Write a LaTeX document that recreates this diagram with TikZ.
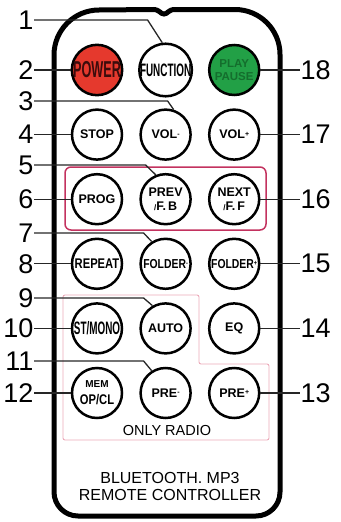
\documentclass[tikz,border=0pt]{standalone}
\usepackage{fontspec}
\setmainfont{Liberation Sans}
\newfontfamily\tallfont[FakeStretch=0.55]{Liberation Sans}
\newfontfamily\semifont[FakeStretch=0.8]{Liberation Sans}
\usetikzlibrary{positioning}

\definecolor{powerred}{HTML}{E5392D}
\definecolor{powertext}{HTML}{3C0C0C}
\definecolor{playgreen}{HTML}{22A046}
\definecolor{playtext}{HTML}{146E2D}
\definecolor{groupred}{HTML}{C3325F}
\definecolor{radiopink}{HTML}{EBAAB9}

\newcommand{\sgn}[1]{\raisebox{2.5pt}{\fontsize{7}{7}\selectfont #1}}
\newcommand{\slsh}{{\fontsize{8}{8}\selectfont/}}

\tikzset{
  btn/.style     = {draw, circle, line width=2.5pt, minimum size=50pt, inner sep=0pt, align=center,
                    font=\bfseries\fontsize{12.5}{14}\selectfont},
  numlabel/.style= {inner sep=0.5pt, font=\fontsize{27}{27}\selectfont},
  lead/.style    = {draw, line width=1.3pt, black!85},
}

\begin{document}
\begin{tikzpicture}[x=1pt, y=-1pt, node distance=64.6pt]

\useasboundingbox (0,0) rectangle (340,522);

% remote body
\draw [line width=5pt] (54,55) arc [start angle=180, end angle=90, radius=45pt]
      -- (153,9.5) .. controls (160,9.5) and (160,14) .. (164,14)
      .. controls (168,14) and (168,9.5) .. (175,9.5)
      -- (235,9.5) arc [start angle=90, end angle=0, radius=45pt]
      -- (280,492) arc [start angle=0, end angle=-90, radius=24pt]
      -- (78,516) arc [start angle=270, end angle=180, radius=24pt] -- cycle;

% groups
\draw [groupred, line width=1.5pt, rounded corners=6pt] (65,167) rectangle (266,230);
\draw [radiopink, line width=0.9pt, rounded corners=2pt]
      (63,295) -- (199,295) -- (199,364) -- (269,364) -- (269,440) -- (63,440) -- cycle;

% buttons
\node [btn, fill=powerred, text=powertext, font=\tallfont\bfseries\fontsize{23}{23}\selectfont] (pw) at (97,70) {POWER};
\node [btn, right of=pw, xshift=4pt, font=\tallfont\bfseries\fontsize{18}{18}\selectfont] (fn) {FUNCTION};
\node [btn, right of=fn, xshift=4pt, fill=playgreen, text=playtext, font=\bfseries\fontsize{11.5}{12.5}\selectfont] (pp) {PLAY\\PAUSE};

\node [btn, below of=pw] (st) {STOP};
\node [btn, below of=fn] (vm) {VOL\sgn{-}};
\node [btn, below of=pp] (vp) {VOL\sgn{+}};

\node [btn, below of=st] (pg) {PROG};
\node [btn, below of=vm] (pv) {PREV\\\slsh F.\,B};
\node [btn, below of=vp] (nx) {NEXT\\\slsh F.\,F};

\node [btn, below of=pg, font=\semifont\bfseries\fontsize{14}{14}\selectfont] (rp) {REPEAT};
\node [btn, below of=pv, font=\semifont\bfseries\fontsize{13}{13}\selectfont] (fm) {FOLDER\sgn{-}};
\node [btn, below of=nx, font=\semifont\bfseries\fontsize{13}{13}\selectfont] (fp) {FOLDER\sgn{+}};

\node [btn, below of=rp, font=\tallfont\bfseries\fontsize{18}{18}\selectfont] (sm) {ST/MONO};
\node [btn, below of=fm] (au) {AUTO};
\node [btn, below of=fp] (eq) {EQ};

\node [btn, below of=sm, font=\bfseries\fontsize{10}{17}\selectfont] (mm) {MEM\\{\semifont\fontsize{14}{14}\selectfont OP/CL}};
\node [btn, below of=au] (pm) {PRE\sgn{-}};
\node [btn, below of=eq] (pr) {PRE\sgn{+}};

% texts
\node [font=\fontsize{14.5}{14.5}\selectfont] (radio) at (167,431) {ONLY RADIO};
\node [align=center, font=\fontsize{16}{17}\selectfont] (title) at (170,486) {BLUETOOTH. MP3\\REMOTE CONTROLLER};

% numbers, left
\coordinate (lx) at (34,0);
\coordinate (rx) at (300,0);

\node [numlabel, anchor=east] (n1)  at (34,20)  {1};
\node [numlabel, anchor=east] (n2)  at (pw -| lx) {2};
\node [numlabel, anchor=east] (n3)  at (34,101) {3};
\node [numlabel, anchor=east] (n4)  at (st -| lx) {4};
\node [numlabel, anchor=east] (n5)  at (34,165) {5};
\node [numlabel, anchor=east] (n6)  at (pg -| lx) {6};
\node [numlabel, anchor=east] (n7)  at (34,233) {7};
\node [numlabel, anchor=east] (n8)  at (rp -| lx) {8};
\node [numlabel, anchor=east] (n9)  at (34,298) {9};
\node [numlabel, anchor=east] (n10) at (sm -| lx) {10};
\node [numlabel, anchor=east] (n11) at (34,361) {11};
\node [numlabel, anchor=east] (n12) at (mm -| lx) {12};

% numbers, right
\node [numlabel, anchor=west] (n13) at (pr -| rx) {13};
\node [numlabel, anchor=west] (n14) at (eq -| rx) {14};
\node [numlabel, anchor=west] (n15) at (fp -| rx) {15};
\node [numlabel, anchor=west] (n16) at (nx -| rx) {16};
\node [numlabel, anchor=west] (n17) at (vp -| rx) {17};
\node [numlabel, anchor=west] (n18) at (pp -| rx) {18};

% leads
\path [lead] (n1.east) -- ([xshift=-18pt]n1.east -| fn.north) -- (fn.97);
\path [lead] (n2) -- (pw);
\path [lead] (n3.east) -- ([xshift=2pt]n3.east -| vm.north) -- (vm.72);
\path [lead] (n4) -- (st);
\path [lead] (n5.east) -- ([xshift=-20pt]n5.east -| pv.north) -- (pv.112);
\path [lead] (n6) -- (pg);
\path [lead] (n7.east) -- ([xshift=-22pt]n7.east -| fm.north) -- (fm.122);
\path [lead] (n8) -- (rp);
\path [lead] (n9.east) -- ([xshift=-22pt]n9.east -| au.north) -- (au.120);
\path [lead] (n10) -- (sm);
\path [lead] (n11.east) -- ([xshift=-22pt]n11.east -| pm.north) -- (pm.122);
\path [lead] (n12) -- (mm);

\path [lead] (pr) -- (n13);
\path [lead] (eq) -- (n14);
\path [lead] (fp) -- (n15);
\path [lead] (nx) -- (n16);
\path [lead] (vp) -- (n17);
\path [lead] (pp) -- (n18);

\end{tikzpicture}
\end{document}
